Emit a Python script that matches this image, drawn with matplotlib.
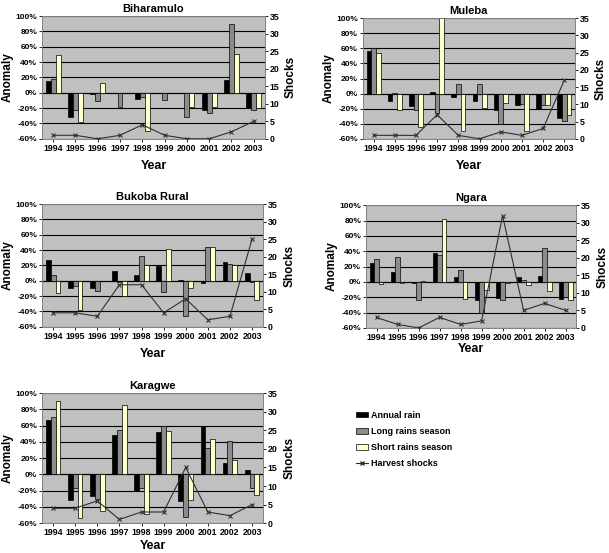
import numpy as np
import matplotlib.pyplot as plt
from matplotlib.lines import Line2D
from matplotlib.patches import Patch

plt.rcParams['font.family'] = ['Liberation Sans', 'DejaVu Sans']
plt.rcParams['font.weight'] = 'bold'
plt.rcParams['axes.labelweight'] = 'bold'
plt.rcParams['axes.titleweight'] = 'bold'

# -----------------------
# Data
# -----------------------
years = ['1994', '1995', '1996', '1997', '1998', '1999', '2000', '2001', '2002', '2003']

# Biharamulo
bih_annual = [15, -32, -1, 0, -8, 0, 0, -22, 17, -20]
bih_long = [18, -22, -11, -18, -5, -10, -32, -26, 90, -23]
bih_short = [49, -38, 13, 0, -50, 0, -18, -18, 50, -20]
bih_shocks = [1, 1, 0, 1, 4, 1, 0, 0, 2, 5]

# Muleba
mul_annual = [56, -10, -17, 2, -5, -10, -22, -15, -20, -33]
mul_long = [60, 1, -22, -26, 13, 13, -41, -14, -15, -37]
mul_short = [54, -22, -44, 100, -50, -19, -12, -50, -15, -29]
mul_shocks = [1, 1, 1, 7, 1, 0, 2, 1, 3, 17]

# Bukoba Rural
buk_annual = [27, -10, -10, 13, 7, 19, 1, -3, 25, 10]
buk_long = [7, -7, -13, -2, 32, -14, -46, 44, 22, -1]
buk_short = [-16, -38, 0, -20, 20, 42, -10, 44, 21, -25]
buk_shocks = [4, 4, 3, 12, 12, 4, 8, 2, 3, 25]

# Ngara
nga_annual = [24, 13, -1, 38, 6, -24, -21, 7, 8, -22]
nga_long = [30, 32, -23, 35, 15, -40, -24, 3, 44, -20]
nga_short = [-3, -1, 1, 82, -22, -10, -1, -4, -12, -23]
nga_shocks = [3, 1, 0, 3, 1, 2, 32, 5, 7, 5]

# Karagwe
kar_annual = [67, -32, -26, 49, -20, 52, -33, 60, 14, 6]
kar_long = [71, -17, -30, 55, -17, 60, -53, 33, 41, -17]
kar_short = [90, -54, -45, 85, -49, 53, -31, 43, 18, -25]
kar_shocks = [4, 4, 6, 1, 3, 3, 15, 3, 2, 5]

panels = [
    ('Biharamulo', [0.069, 0.749, 0.366, 0.222], bih_annual, bih_long, bih_short, bih_shocks, 5),
    ('Muleba', [0.596, 0.749, 0.348, 0.218], mul_annual, mul_long, mul_short, mul_shocks, 5),
    ('Bukoba Rural', [0.069, 0.409, 0.363, 0.222], buk_annual, buk_long, buk_short, buk_shocks, 5),
    ('Ngara', [0.601, 0.407, 0.345, 0.222], nga_annual, nga_long, nga_short, nga_shocks, 1),
    ('Karagwe', [0.069, 0.054, 0.363, 0.235], kar_annual, kar_long, kar_short, kar_shocks, 2),
]

c_annual = '#000000'
c_long = '#8c8c8c'
c_short = '#ffffcc'
bg = '#c0c0c0'

fig = plt.figure(figsize=(6.09, 5.53), dpi=100)

x = np.arange(len(years))
w = 0.22
for name, pos, ann, lng, sht, shk, xpad in panels:
    ax = fig.add_axes(pos)
    ax.set_facecolor(bg)
    ax.bar(x - w, ann, w, color=c_annual, edgecolor='black', linewidth=0.5, zorder=3)
    ax.bar(x, lng, w, color=c_long, edgecolor='black', linewidth=0.5, zorder=3)
    ax.bar(x + w, sht, w, color=c_short, edgecolor='black', linewidth=0.5, zorder=3)
    ax.set_ylim(-60, 100)
    ax.set_xlim(-0.5, len(years) - 0.5)
    ax.set_yticks(np.arange(-60, 101, 20))
    ax.set_yticklabels([f'{v}%' for v in range(-60, 101, 20)], fontsize=6)
    ax.set_xticks(x)
    ax.set_xticklabels(years, fontsize=6.3)
    ax.tick_params(length=2, width=0.6, pad=1.5)
    ax.yaxis.grid(True, color='black', linewidth=0.8, zorder=1)
    ax.set_axisbelow(True)
    ax.axhline(0, color='black', linewidth=0.8, zorder=2)
    for s in ax.spines.values():
        s.set_color('#808080')
        s.set_linewidth(0.6)
    ax.set_ylabel('Anomaly', fontsize=8.5, labelpad=1)
    ax.set_xlabel('Year', fontsize=9, labelpad=xpad)
    ax.set_title(name, fontsize=8, pad=3)

    ax2 = ax.twinx()
    ax2.plot(x, shk, color='#303030', linewidth=0.8, marker='x', markersize=3,
             markeredgewidth=0.8, zorder=4)
    ax2.set_ylim(0, 35)
    ax2.set_yticks(np.arange(0, 36, 5))
    ax2.tick_params(labelsize=6.3, length=2, width=0.6, pad=1.5)
    ax2.set_ylabel('Shocks', fontsize=8.5, labelpad=4)
    for s in ax2.spines.values():
        s.set_color('#808080')
        s.set_linewidth(0.6)

handles = [
    Patch(facecolor=c_annual, edgecolor='black', linewidth=0.5, label='Annual rain'),
    Patch(facecolor=c_long, edgecolor='black', linewidth=0.5, label='Long rains season'),
    Patch(facecolor=c_short, edgecolor='black', linewidth=0.5, label='Short rains season'),
    Line2D([0], [0], color='#303030', linewidth=0.8, marker='x', markersize=3, label='Harvest shocks'),
]
fig.legend(handles=handles, loc='upper left', bbox_to_anchor=(0.572, 0.272), frameon=False,
           fontsize=6.5, handlelength=1.3, handleheight=0.6, handletextpad=0.3, labelspacing=0.8)

fig.savefig('out.png', dpi=100)
